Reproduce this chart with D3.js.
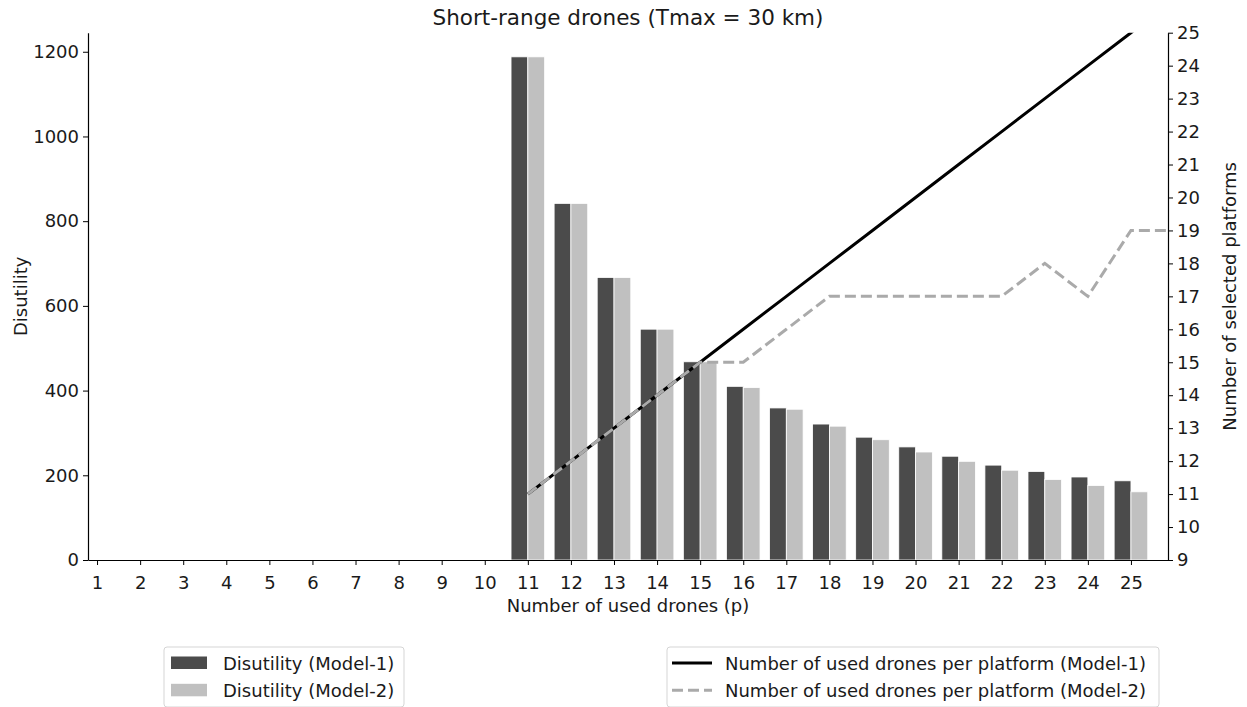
<html>
<script src='https://d3js.org/d3.v7.min.js'></script>
<style>
body {margin: 0; background: white;}
text {font-family: 'DejaVu Sans', sans-serif; fill: #1a1a1a;}
.tick text {font-size: 18px; fill: #1a1a1a;}
.axis path, .axis line {stroke: black;}
</style>
<body>
<svg id="chart" width=1247 height=707></svg>
<script>
// drones used (p) on the x axis
var drones = d3.range(1, 26);
// disutility per model, zero where no solution (p < 11)
var disutility1 = [0,0,0,0,0,0,0,0,0,0, 1188,842,667,545,468,410,359,321,290,267,245,224,209,196,187];
var disutility2 = [0,0,0,0,0,0,0,0,0,0, 1188,842,667,545,468,407,356,316,284,255,233,212,190,176,161];
// lines (right axis), last point falls outside the plot and is clipped
var linePs  = [11,12,13,14,15,16,17,18,19,20,21,22,23,24,25,26];
var perPlatform1 = [11,12,13,14,15,16,17,18,19,20,21,22,23,24,25,26];
var perPlatform2 = [11,12,13,14,15,15,16,17,17,17,17,17,18,17,19,19];
var rightTicks = d3.range(9, 26);
var leftTicks = [0,200,400,600,800,1000,1200];

var mLeft = 88, mRight = 1168, mTop = 32.7, mBottom = 560;
var svg = d3.select("#chart");

var x = d3.scaleLinear().domain([0.79, 25.86]).range([mLeft, mRight]);
var y = d3.scaleLinear().domain([0, 1245]).range([mBottom, mTop]);
var y2 = d3.scaleLinear().domain([9, 25]).range([mBottom, mTop]);
var bw = 0.39;

svg.append("defs").append("clipPath").attr("id", "clip")
  .append("rect").attr("x", mLeft).attr("y", mTop).attr("width", mRight - mLeft).attr("height", mBottom - mTop);

// bars
var bars = svg.append("g");
bars.selectAll(".b1").data(drones).enter().append("rect")
  .attr("x", function(d) { return x(d - bw); })
  .attr("width", x(bw) - x(0))
  .attr("y", function(d, i) { return y(disutility1[i]); })
  .attr("height", function(d, i) { return y(0) - y(disutility1[i]); })
  .attr("fill", "#4b4b4b").attr("stroke", "white").attr("stroke-width", 0.8);
bars.selectAll(".b2").data(drones).enter().append("rect")
  .attr("x", function(d) { return x(d); })
  .attr("width", x(bw) - x(0))
  .attr("y", function(d, i) { return y(disutility2[i]); })
  .attr("height", function(d, i) { return y(0) - y(disutility2[i]); })
  .attr("fill", "#c0c0c0").attr("stroke", "white").attr("stroke-width", 0.8);

// axes
svg.append("g").attr("class", "axis")
  .attr("transform", "translate(0," + mBottom + ")")
  .call(d3.axisBottom(x).tickValues(drones).tickSize(5).tickPadding(11).tickSizeOuter(0));
svg.append("g").attr("class", "axis")
  .attr("transform", "translate(" + mLeft + ",0)")
  .call(d3.axisLeft(y).tickValues(leftTicks).tickFormat(d3.format("d")).tickSize(5).tickPadding(4).tickSizeOuter(0));
svg.append("g").attr("class", "axis")
  .attr("transform", "translate(" + mRight + ",0)")
  .call(d3.axisRight(y2).tickValues(rightTicks).tickSize(5).tickPadding(4).tickSizeOuter(0));
svg.selectAll(".axis .domain").attr("stroke-width", 1.2);

// lines
var lines = svg.append("g").attr("clip-path", "url(#clip)");
var line1 = d3.line().x(function(d, i) { return x(linePs[i]); }).y(function(d) { return y2(d); });
lines.append("path").datum(perPlatform1).attr("d", line1)
  .attr("fill", "none").attr("stroke", "black").attr("stroke-width", 3);
lines.append("path").datum(perPlatform2).attr("d", line1)
  .attr("fill", "none").attr("stroke", "#aaaaaa").attr("stroke-width", 3)
  .attr("stroke-dasharray", "11,5");

// labels
svg.append("text").attr("x", (mLeft + mRight) / 2).attr("y", 25)
  .attr("text-anchor", "middle").style("font-size", "21.5px").text("Short-range drones (Tmax = 30 km)");
svg.append("text").attr("x", (mLeft + mRight) / 2).attr("y", 612)
  .attr("text-anchor", "middle").style("font-size", "18px").text("Number of used drones (p)");
svg.append("text").attr("transform", "translate(27," + ((mTop + mBottom) / 2) + ") rotate(-90)")
  .attr("text-anchor", "middle").style("font-size", "18px").text("Disutility");
svg.append("text").attr("transform", "translate(1236," + ((mTop + mBottom) / 2) + ") rotate(-90)")
  .attr("text-anchor", "middle").style("font-size", "18px").text("Number of selected platforms");

// legends
var leg1 = svg.append("g");
leg1.append("rect").attr("x", 164).attr("y", 647).attr("width", 240).attr("height", 60).attr("rx", 3)
  .attr("fill", "white").attr("stroke", "#d5d5d5");
[["#4b4b4b", "Disutility (Model-1)"], ["#c0c0c0", "Disutility (Model-2)"]].forEach(function(e, i) {
  leg1.append("rect").attr("x", 171).attr("y", 656.5 + i * 27.3).attr("width", 36).attr("height", 12.5).attr("fill", e[0]);
  leg1.append("text").attr("x", 223).attr("y", 669.5 + i * 27.3).style("font-size", "18px").text(e[1]);
});
var leg2 = svg.append("g");
leg2.append("rect").attr("x", 667).attr("y", 647).attr("width", 492).attr("height", 60).attr("rx", 3)
  .attr("fill", "white").attr("stroke", "#d5d5d5");
[["black", null, "Number of used drones per platform (Model-1)"], ["#aaaaaa", "11,5", "Number of used drones per platform (Model-2)"]].forEach(function(e, i) {
  leg2.append("line").attr("x1", 672).attr("x2", 712).attr("y1", 663 + i * 27.3).attr("y2", 663 + i * 27.3)
    .attr("stroke", e[0]).attr("stroke-width", 3).attr("stroke-dasharray", e[1]);
  leg2.append("text").attr("x", 725).attr("y", 669.5 + i * 27.3).style("font-size", "18px").text(e[2]);
});
</script>
</body>
</html>
